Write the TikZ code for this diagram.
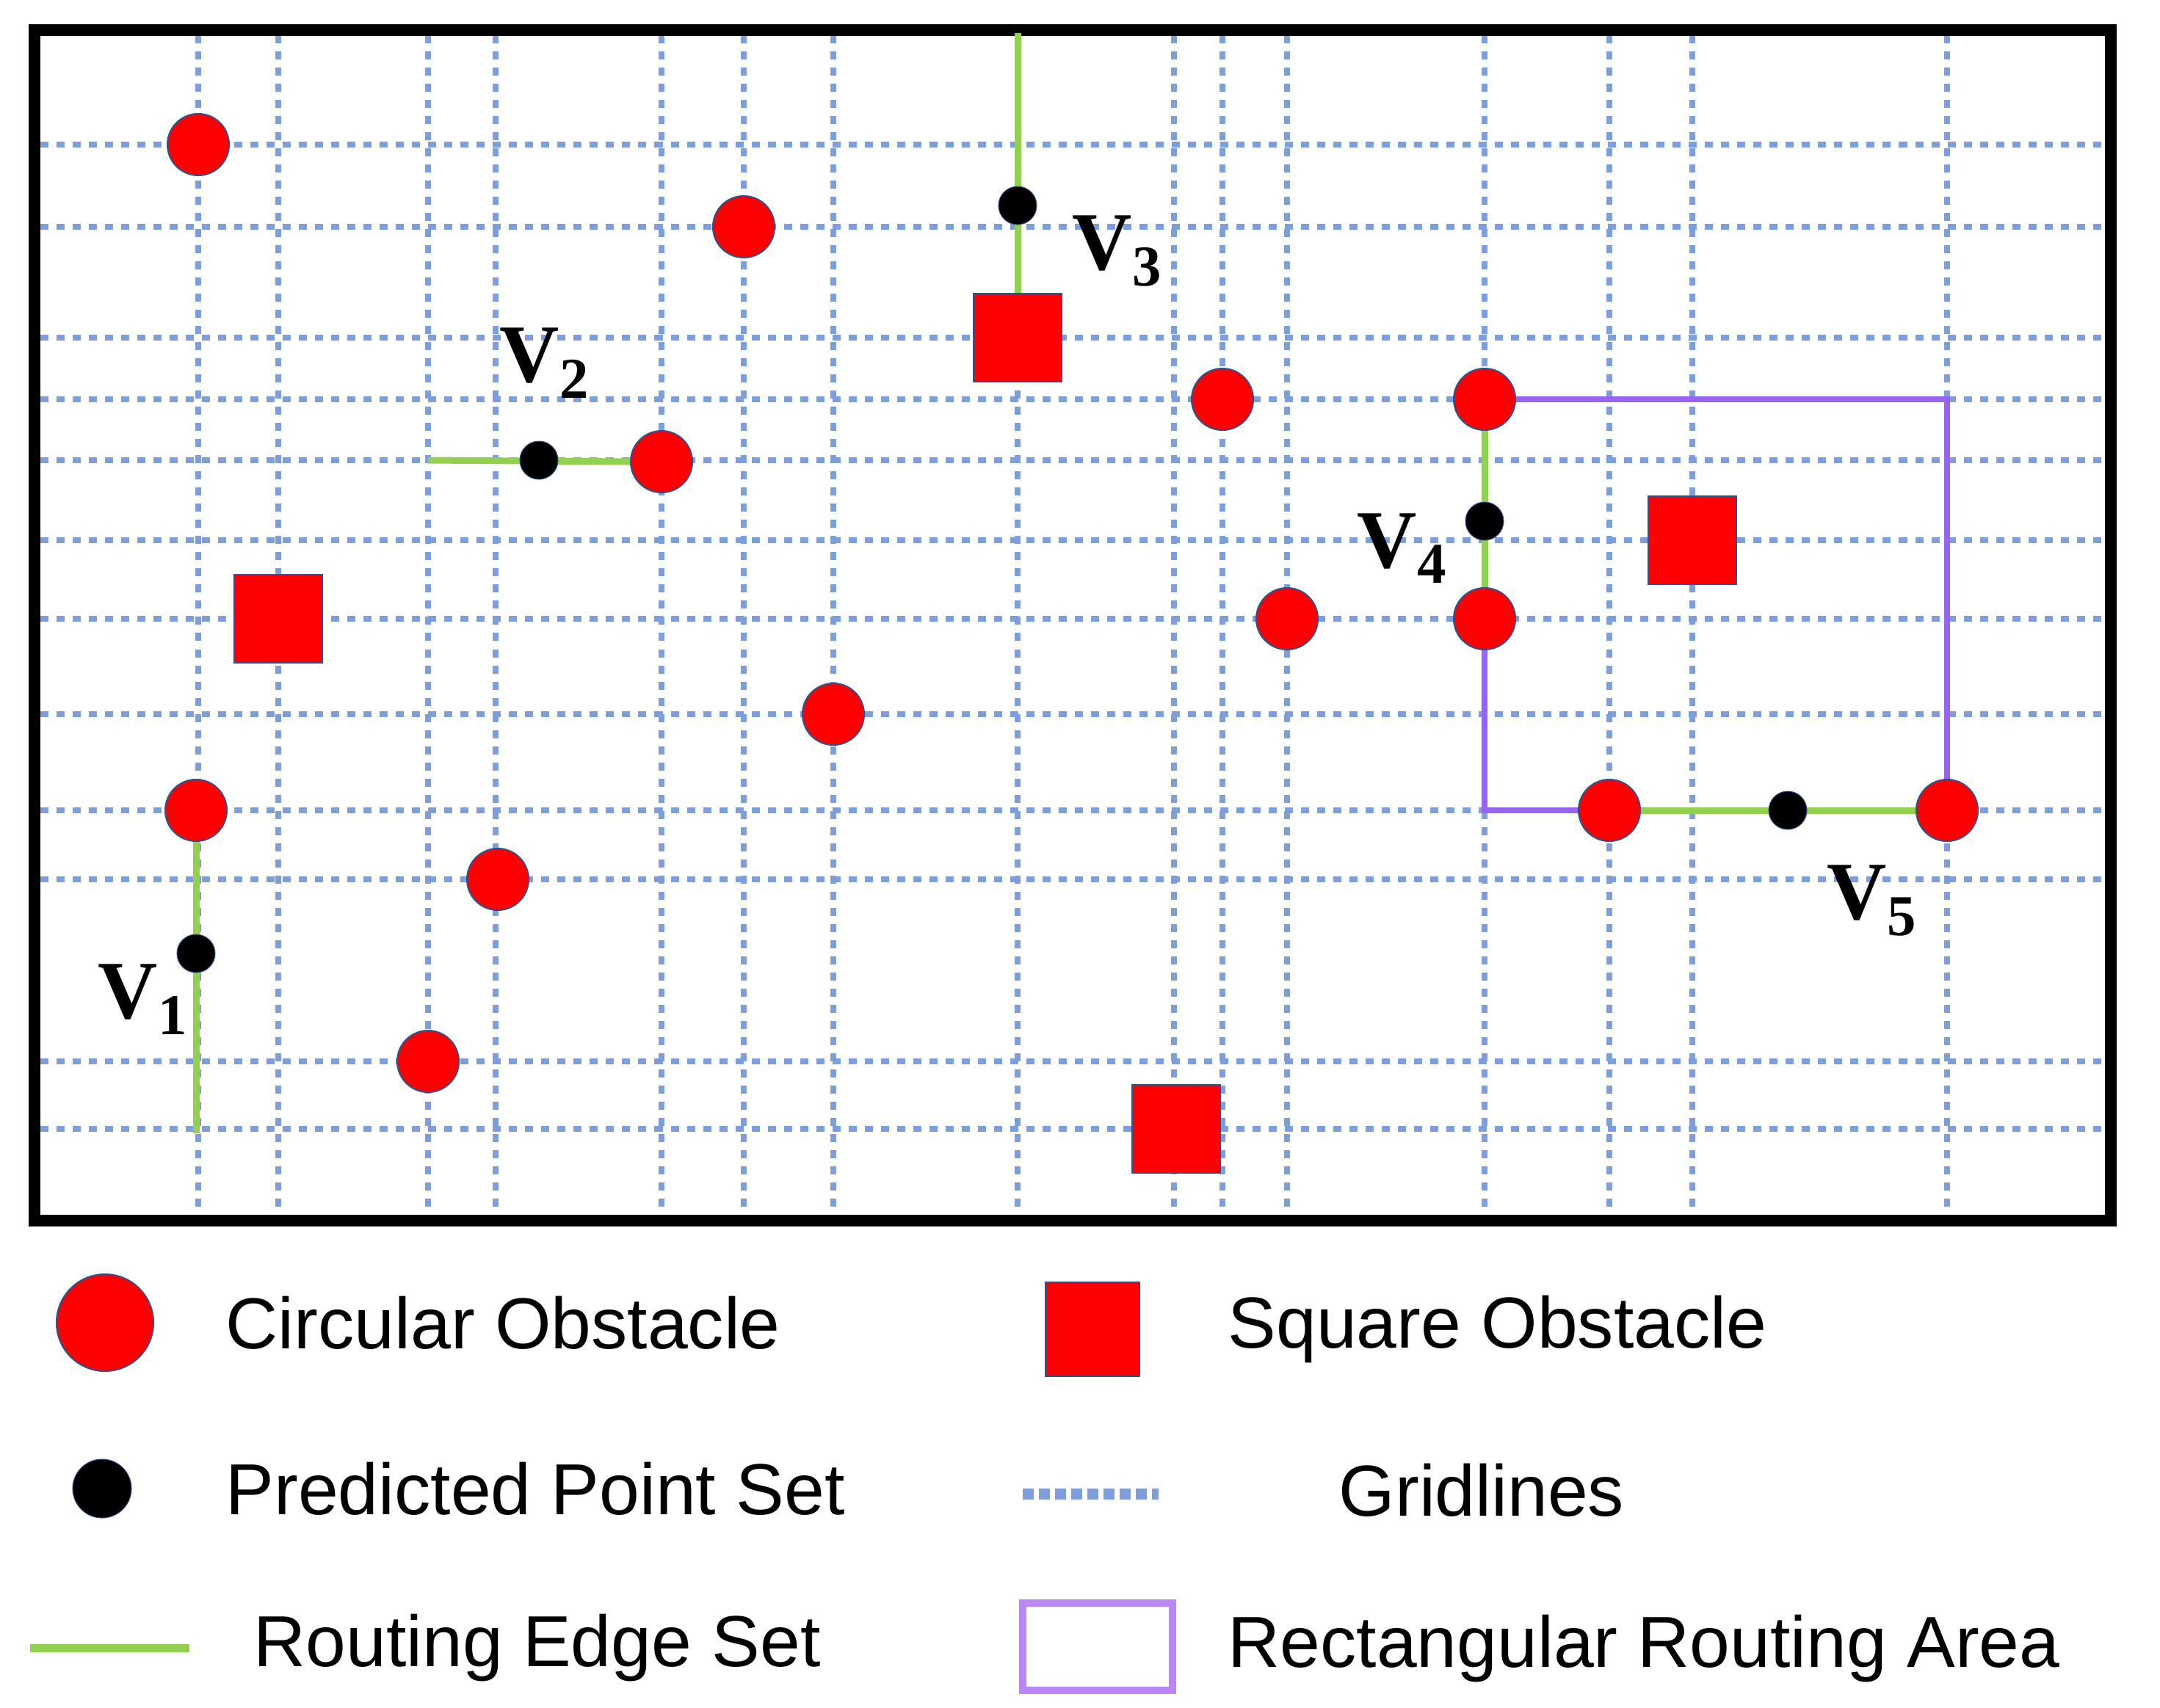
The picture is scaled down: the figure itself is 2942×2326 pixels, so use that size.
\documentclass[tikz,border=0pt]{standalone}
\usepackage{fontspec}
\setmainfont{Liberation Serif}
\newfontfamily\legfont{Liberation Sans}
\definecolor{gridb}{RGB}{125,158,220}
\definecolor{edgeg}{RGB}{146,208,80}
\definecolor{obsb}{RGB}{47,82,143}
\definecolor{areap}{RGB}{150,100,240}
\definecolor{areal}{RGB}{185,135,250}
\begin{document}
\begin{tikzpicture}[x=0.01cm,y=-0.01cm,
 grid/.style={gridb,line width=0.075cm,dash pattern=on 0.11cm off 0.11cm},
 circ/.style={circle,fill=red,draw=obsb,line width=0.02cm,minimum size=0.84cm,inner sep=0pt},
 sq/.style={rectangle,fill=red,draw=obsb,line width=0.025cm,minimum size=1.2cm,inner sep=0pt},
 pt/.style={circle,fill=black,draw=obsb,line width=0.01cm,minimum size=0.52cm,inner sep=0pt},
 edge/.style={edgeg,line width=0.09cm},
 area/.style={areap,line width=0.08cm},
 vlab/.style={font=\fontsize{32}{36}\selectfont\bfseries,inner sep=0pt},
 leg/.style={font=\legfont\fontsize{28}{32}\selectfont,anchor=west,inner sep=0pt}]
\useasboundingbox (0,0) rectangle (2942,2326);
% grid
\foreach \x in {270,379,583,675,901,1013,1135,1386,1599,1665,1753,2022,2192,2305,2652}
  \draw[grid] (\x,48) -- (\x,1655);
\foreach \y in {197,309,460,544,627,736,843,973,1104,1198,1446,1538}
  \draw[grid] (55,\y) -- (2865,\y);
% frame
\draw[line width=0.16cm] (47,41) rectangle (2875,1663);
% obstacles
\node[circ] (c1) at (270,197) {};
\node[circ] (c2) at (1013,309) {};
\node[circ] (c3) at (901,629) {};
\node[circ] (c4) at (1135,973) {};
\node[circ] (c5) at (267,1104) {};
\node[circ] (c6) at (678,1198) {};
\node[circ] (c7) at (583,1446) {};
\node[circ] (c8) at (1665,544) {};
\node[circ] (c9) at (2022,544) {};
\node[circ] (c10) at (1753,843) {};
\node[circ] (c11) at (2022,843) {};
\node[circ] (c12) at (2192,1104) {};
\node[circ] (c13) at (2652,1104) {};
\node[sq] (s1) at (379,843) {};
\node[sq] (s2) at (1386,460) {};
\node[sq] (s3) at (2305,736) {};
\node[sq] (s4) at (1602,1538) {};
% routing area
\coordinate (a1) at (2652,544);
\coordinate (a2) at (2652,1104);
\coordinate (a3) at (2022,1104);
\draw[area] (c9.east) -- (a1) -- (c13.north);
\draw[area] (c11.south) -- (a3) -- (c12.west);
% edges
\coordinate (e1) at (267,1544);
\coordinate (e2) at (583,627);
\coordinate (e3) at (1386,45);
\draw[edge] (c5.south) -- (e1);
\draw[edge] (e2) -- (c3.west);
\draw[edge] (e3) -- (s2.north);
\draw[edge] (c9.south) -- (c11.north);
\draw[edge] (c12.east) -- (c13.west);
% predicted points
\node[pt] (p1) at (267,1299) {};
\node[pt] (p2) at (734,627) {};
\node[pt] (p3) at (1386,280) {};
\node[pt] (p4) at (2022,710) {};
\node[pt] (p5) at (2435,1104) {};
% labels
\node[vlab] (l1) at (195,1362) {V\textsubscript{1}};
\node[vlab] (l2) at (742,495) {V\textsubscript{2}};
\node[vlab] (l3) at (1522,342) {V\textsubscript{3}};
\node[vlab] (l4) at (1910,747) {V\textsubscript{4}};
\node[vlab] (l5) at (2550,1227) {V\textsubscript{5}};
% legend
\node[circ,minimum size=1.32cm] (k1) at (143,1802) {};
\node[leg] (t1) at (307,1802) {Circular Obstacle};
\node[sq,minimum size=1.28cm] (k2) at (1488,1811) {};
\node[leg] (t2) at (1672,1811) {Square Obstacle};
\node[pt,minimum size=0.8cm] (k3) at (139,2028) {};
\node[leg] (t3) at (307,2028) {Predicted Point Set};
\coordinate (g1) at (1393,2035);
\coordinate (g2) at (1578,2035);
\draw[gridb,line width=0.15cm,dash pattern=on 0.15cm off 0.07cm] (g1) -- (g2);
\node[leg] (t4) at (1823,2030) {Gridlines};
\coordinate (r1) at (41,2245);
\coordinate (r2) at (258,2245);
\draw[edgeg,line width=0.11cm] (r1) -- (r2);
\node[leg] (t5) at (345,2245) {Routing Edge Set};
\node[draw=areal,line width=0.1cm,minimum width=2.04cm,minimum height=1.19cm,inner sep=0pt] (k6) at (1495,2243) {};
\node[leg] (t6) at (1672,2246) {Rectangular Routing Area};
\end{tikzpicture}
\end{document}
